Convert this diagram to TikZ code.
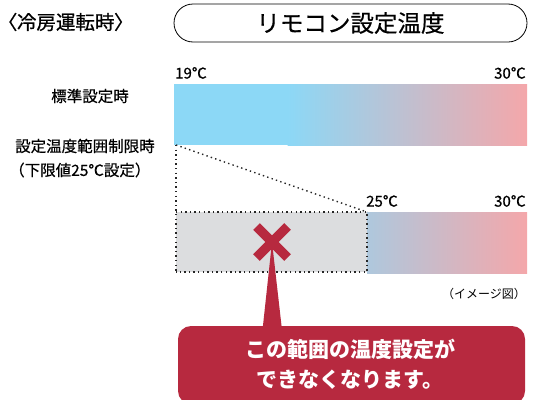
\documentclass[tikz,border=0pt]{standalone}
\usepackage{fontspec}
\usetikzlibrary{calc}
\setmainfont{Noto Sans CJK JP}
\newfontfamily\jppalt{Noto Sans CJK JP}[RawFeature=+palt, FakeBold=0.6]
\newfontfamily\jpmed{Noto Sans CJK JP}[FakeBold=0.5]
\definecolor{coolc}{HTML}{8CD8F6}
\definecolor{warmc}{HTML}{F4A7AA}
\definecolor{grayc}{HTML}{DCDDDF}
\definecolor{redc}{HTML}{B7293F}
\tikzset{
  dotline/.style={line width=1.4pt, dash pattern=on 1.4pt off 3.2pt, black!85},
  lbl/.style={inner sep=0pt, font=\jpmed\fontsize{15.5}{17}\selectfont},
  temp/.style={inner sep=0pt, font=\jpmed\fontsize{15}{17}\selectfont},
}
\begin{document}
\begin{tikzpicture}[x=1pt,y=-1pt]
\useasboundingbox (0,0) rectangle (534,399);
% title
\node[inner sep=0pt, anchor=west, font=\jppalt\fontsize{19.5}{22}\selectfont] (title) at (7,22) {〈冷房運転時〉};
\node[draw, line width=0.8pt, rounded corners=19pt, minimum width=353pt, minimum height=38pt, inner sep=0pt, font=\jpmed\fontsize{23.5}{25}\selectfont] (header) at (350.5,23) {リモコン設定温度};
% top bar
\fill[coolc] (174,84) rectangle (288,145);
\shade[left color=coolc, right color=warmc] (287.5,84) rectangle (527,145);
\coordinate (topbarSW) at (176,145);
\node[temp, anchor=south west] (t19) at (175,79) {19℃};
\node[temp, anchor=south east] (t30a) at (526,79) {30℃};
\node[lbl, anchor=center] (std) at (90,96) {標準設定時};
\node[lbl, anchor=west] (lim1) at (15,146) {設定温度範囲制限時};
\node[lbl, anchor=west] (lim2) at (9,170) {（下限値25℃設定）};
% lower bar
\fill[grayc] (176,212) rectangle (367,272);
\shade[left color=coolc!67!warmc, right color=warmc] (367,212) rectangle (527,273);
\coordinate (lowNW) at (176,212);
\coordinate (lowSW) at (176,272);
\coordinate (cutN) at (367,212);
\coordinate (cutS) at (367,272);
\node[temp, anchor=south west] (t25) at (366,207) {25℃};
\node[temp, anchor=south east] (t30b) at (526,207) {30℃};
% dotted lines
\draw[dotline] (topbarSW) -- (cutN);
\draw[dotline] (topbarSW) -- (lowSW);
\draw[dotline] (lowNW) -- (cutN) -- (cutS) -- (lowSW);
\node[inner sep=0pt, anchor=east, font=\fontsize{12}{14}\selectfont] (img) at (526,294) {（イメージ図）};
% callout
\begin{scope}
\clip (0,0) rectangle (534,399);
\fill[redc, rounded corners=13pt] (178,326) rectangle (525,404);
\end{scope}
\coordinate (xc) at (272,242);
\fill[redc] (xc) -- (262.5,330) -- (282,330) -- cycle;
\draw[redc, line width=9.5pt] ($(xc)+(-15.5,-15.5)$) -- ($(xc)+(15.5,15.5)$);
\draw[redc, line width=9.5pt] ($(xc)+(-15.5,15.5)$) -- ($(xc)+(15.5,-15.5)$);
\node[inner sep=0pt, text=white, align=center, font=\bfseries\fontsize{21}{30}\selectfont] (msg) at (350,364) {この範囲の温度設定が\\できなくなります。};
\end{tikzpicture}
\end{document}
